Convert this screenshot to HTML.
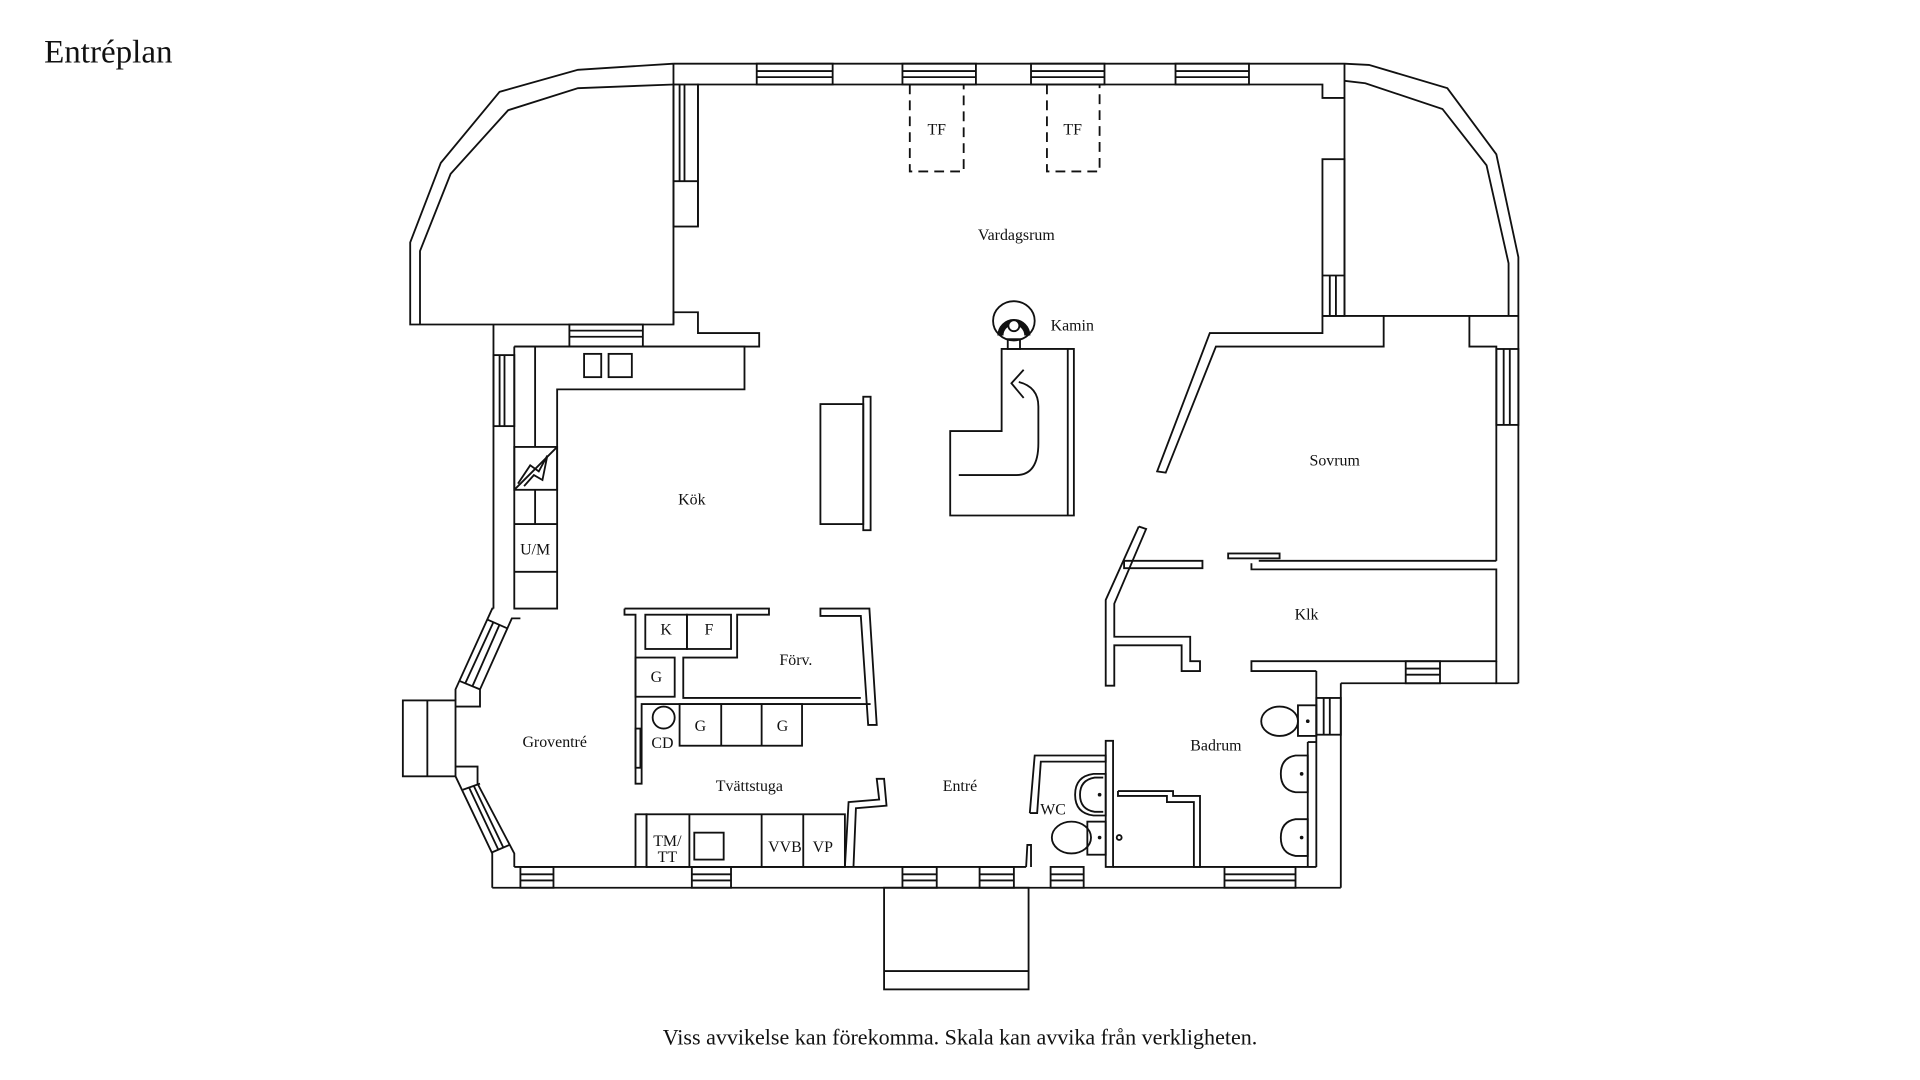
<!DOCTYPE html>
<html><head><meta charset="utf-8"><style>
html,body{margin:0;padding:0;background:#fff;width:1920px;height:1080px;overflow:hidden}
svg{display:block}
text{font-family:"Liberation Serif",serif;fill:#111}
</style></head><body>
<svg width="1920" height="1080" viewBox="0 0 1568 882" xmlns="http://www.w3.org/2000/svg">
<g fill="none" stroke="#111" stroke-width="1.5" stroke-linejoin="miter">
<line x1="550" y1="52" x2="1098" y2="52"/>
<polyline points="570,185 570,69 1080,69 1080,80 1098,80"/>
<g>
<rect x="618" y="52" width="62" height="17"/><line x1="618" y1="58" x2="680" y2="58"/><line x1="618" y1="63" x2="680" y2="63"/>
<rect x="737" y="52" width="60" height="17"/><line x1="737" y1="58" x2="797" y2="58"/><line x1="737" y1="63" x2="797" y2="63"/>
<rect x="842" y="52" width="60" height="17"/><line x1="842" y1="58" x2="902" y2="58"/><line x1="842" y1="63" x2="902" y2="63"/>
<rect x="960" y="52" width="60" height="17"/><line x1="960" y1="58" x2="1020" y2="58"/><line x1="960" y1="63" x2="1020" y2="63"/>
</g>
<polyline points="550,52 472,57 408,75 360,133 335,198 335,265 550,265 550,52"/>
<polyline points="550,69 472,72 415,90 368,142 343,205 343,265"/>
<rect x="550" y="69" width="20" height="116"/><line x1="555" y1="69" x2="555" y2="148"/><line x1="559" y1="69" x2="559" y2="148"/><line x1="550" y1="148" x2="570" y2="148"/>
<polyline points="1098,52 1118,53 1182,72 1222,126 1240,210 1240,558"/>
<polyline points="1098,66 1115,68 1178,89 1214,135 1232,215 1232,258"/>
<line x1="1098" y1="52" x2="1098" y2="258"/>
<rect x="1080" y="130" width="18" height="128"/>
<line x1="1080" y1="225" x2="1098" y2="225"/><line x1="1086" y1="225" x2="1086" y2="258"/><line x1="1091" y1="225" x2="1091" y2="258"/>
<line x1="1080" y1="258" x2="1240" y2="258"/>
<polyline points="1080,258 1080,272 988,272 945,385 952,386 993,283 1130,283 1130,258"/>
<polyline points="1200,258 1200,283 1222,283 1222,458"/>
<rect x="1222" y="285" width="18" height="62"/><line x1="1228" y1="285" x2="1228" y2="347"/><line x1="1233" y1="285" x2="1233" y2="347"/>
<polyline points="403,265 403,497"/>
<polyline points="550,265 550,255 570,255 570,272 620,272 620,283 570,283"/>
<line x1="550" y1="283" x2="570" y2="283"/>
<rect x="465" y="265" width="60" height="18"/><line x1="465" y1="270" x2="525" y2="270"/><line x1="465" y1="275" x2="525" y2="275"/>
<rect x="403" y="290" width="17" height="58"/><line x1="408" y1="290" x2="408" y2="348"/><line x1="412" y1="290" x2="412" y2="348"/>
<polyline points="420,283 608,283 608,318 455,318 455,497 420,497 420,283"/>
<line x1="420" y1="283" x2="550" y2="283"/>
<line x1="437" y1="283" x2="437" y2="365"/>
<rect x="420" y="365" width="35" height="35"/>
<polyline points="420,400 455,365"/>
<polyline points="423,395 433,380 440,385 447,372 443,392 436,388 428,397"/>
<line x1="420" y1="428" x2="455" y2="428"/><line x1="437" y1="400" x2="437" y2="428"/>
<line x1="420" y1="467" x2="455" y2="467"/>
<rect x="477" y="289" width="14" height="19"/><rect x="497" y="289" width="19" height="19"/>
<rect x="670" y="330" width="35" height="98"/>
<rect x="705" y="324" width="6" height="109"/>
<polygon points="818,285 877,285 877,421 776,421 776,352 818,352"/>
<line x1="872" y1="285" x2="872" y2="421"/>
<path d="M 783 388 L 830 388 Q 848 388 848 362 L 848 332 Q 848 316 832 312"/>
<polyline points="836,302 826,313 836,325"/>
<ellipse cx="828" cy="262" rx="17" ry="16"/>
<path d="M 817 274 A 11 11 0 1 1 839 274" stroke-width="5"/>
<circle cx="828" cy="266" r="4.5" fill="#fff"/>
<rect x="823" y="277" width="10" height="8"/>
<g stroke-dasharray="8 5">
<polyline points="743,69 743,140 787,140 787,69"/>
<polyline points="855,69 855,140 898,140 898,69"/>
</g>
<!-- groventre left -->
<polyline points="403,497 402,497 372,563 372,572"/>
<polyline points="425,505 418,505 392,563 392,577 372,577"/>
<line x1="398" y1="506" x2="414" y2="513"/><line x1="375" y1="556" x2="392" y2="563"/>
<line x1="403" y1="508" x2="380" y2="558"/><line x1="408" y1="510" x2="386" y2="560"/>
<rect x="329" y="572" width="43" height="62"/><line x1="349" y1="572" x2="349" y2="634"/>
<polyline points="372,626 390,626 390,640 420,697 420,708"/>
<polyline points="372,634 402,697 402,725"/>
<line x1="378" y1="645" x2="392" y2="640"/><line x1="402" y1="696" x2="416" y2="690"/>
<line x1="383" y1="643" x2="407" y2="694"/><line x1="387" y1="642" x2="411" y2="692"/>
<line x1="402" y1="725" x2="1095" y2="725"/>
<polyline points="420,708 519,708"/>
<line x1="690" y1="708" x2="838" y2="708"/>
<line x1="528" y1="708" x2="690" y2="708"/>
<line x1="909" y1="708" x2="1075" y2="708"/>
<g>
<rect x="425" y="708" width="27" height="17"/><line x1="425" y1="714" x2="452" y2="714"/><line x1="425" y1="719" x2="452" y2="719"/>
<rect x="565" y="708" width="32" height="17"/><line x1="565" y1="714" x2="597" y2="714"/><line x1="565" y1="719" x2="597" y2="719"/>
<rect x="737" y="708" width="28" height="17"/><line x1="737" y1="714" x2="765" y2="714"/><line x1="737" y1="719" x2="765" y2="719"/>
<rect x="800" y="708" width="28" height="17"/><line x1="800" y1="714" x2="828" y2="714"/><line x1="800" y1="719" x2="828" y2="719"/>
<rect x="858" y="708" width="27" height="17"/><line x1="858" y1="714" x2="885" y2="714"/><line x1="858" y1="719" x2="885" y2="719"/>
<rect x="1000" y="708" width="58" height="17"/><line x1="1000" y1="714" x2="1058" y2="714"/><line x1="1000" y1="719" x2="1058" y2="719"/>
</g>
<rect x="722" y="725" width="118" height="83"/><line x1="722" y1="793" x2="840" y2="793"/>
<polyline points="510,497 510,502 519,502 519,640 524,640 524,575 711,575"/>
<polyline points="510,497 628,497 628,502 602,502 602,537 558,537 558,570 703,570"/>
<rect x="527" y="502" width="34" height="28"/><rect x="561" y="502" width="36" height="28"/>
<rect x="519" y="537" width="32" height="32"/>
<polygon points="670,497 710,497 716,592 709,592 703,503 670,503"/>
<rect x="555" y="575" width="100" height="34"/><line x1="589" y1="575" x2="589" y2="609"/><line x1="622" y1="575" x2="622" y2="609"/>
<circle cx="542" cy="586" r="9"/>
<rect x="519" y="595" width="4" height="32"/>
<rect x="519" y="665" width="9" height="43"/>
<rect x="528" y="665" width="162" height="43"/>
<line x1="563" y1="665" x2="563" y2="708"/><line x1="622" y1="665" x2="622" y2="708"/><line x1="656" y1="665" x2="656" y2="708"/>
<rect x="567" y="680" width="24" height="22"/>
<polyline points="690,708 693,655 718,653 716,636 722,636 724,658 699,660 697,708"/>
<rect x="903" y="605" width="6" height="103"/>
<polyline points="841,664 845,617 903,617 903,622 850,622 847,664 841,664"/>
<polyline points="838,708 839,690 842,690 842,708"/>
<path d="M 903 632 L 893 632 Q 878 634 878 649 Q 878 664 893 666 L 903 666 Z"/>
<path d="M 901 635 L 894 635 Q 882 637 882 649 Q 882 661 894 663 L 901 663"/>
<rect x="888" y="671" width="15" height="27"/>
<ellipse cx="875" cy="684" rx="16" ry="13"/>
<circle cx="914" cy="684" r="2"/>
<polyline points="913,646 958,646 958,650 980,650 980,708 975,708 975,655 953,655 953,650 913,650 913,646"/>
<line x1="1075" y1="548" x2="1075" y2="708"/>
<line x1="1068" y1="606" x2="1068" y2="708"/>
<line x1="1068" y1="606" x2="1075" y2="606"/>
<line x1="1095" y1="558" x2="1095" y2="725"/>
<rect x="1075" y="570" width="20" height="30"/><line x1="1081" y1="570" x2="1081" y2="600"/><line x1="1086" y1="570" x2="1086" y2="600"/>
<rect x="1060" y="576" width="15" height="25"/>
<ellipse cx="1045" cy="589" rx="15" ry="12"/>
<path d="M 1068 617 L 1058 617 Q 1046 619 1046 632 Q 1046 645 1058 647 L 1068 647 Z"/>
<path d="M 1068 669 L 1058 669 Q 1046 671 1046 684 Q 1046 697 1058 699 L 1068 699 Z"/>
<polyline points="930,430 903,490 903,560 910,560 910,527 965,527 965,548 980,548 980,540 972,540 972,520 910,520 910,493 936,432 930,430"/>
<polygon points="918,458 982,458 982,464 918,464"/>
<rect x="1003" y="452" width="42" height="4"/>
<line x1="1028" y1="458" x2="1222" y2="458"/>
<polyline points="1022,460 1022,465 1222,465 1222,540 1022,540 1022,548 1075,548"/>
<polyline points="1222,540 1222,558 1240,558"/>
<line x1="1095" y1="558" x2="1222" y2="558"/>
<rect x="1148" y="540" width="28" height="18"/><line x1="1148" y1="546" x2="1176" y2="546"/><line x1="1148" y1="551" x2="1176" y2="551"/>
</g>
<g fill="#111">
<circle cx="898" cy="649" r="1.5"/><circle cx="1063" cy="632" r="1.5"/><circle cx="1063" cy="684" r="1.5"/><circle cx="898" cy="684" r="1.5"/><circle cx="1068" cy="589" r="1.5"/>
</g>
<text x="36" y="51" font-size="27">Entréplan</text>
<g font-size="13" text-anchor="middle">
<text x="765" y="110">TF</text>
<text x="876" y="110">TF</text>
<text x="830" y="196">Vardagsrum</text>
<text x="858" y="270" text-anchor="start">Kamin</text>
<text x="1090" y="380">Sovrum</text>
<text x="565" y="412">Kök</text>
<text x="437" y="453">U/M</text>
<text x="1067" y="506">Klk</text>
<text x="544" y="518">K</text>
<text x="579" y="518">F</text>
<text x="650" y="543">Förv.</text>
<text x="536" y="557">G</text>
<text x="572" y="597">G</text>
<text x="639" y="597">G</text>
<text x="541" y="611">CD</text>
<text x="453" y="610">Groventré</text>
<text x="993" y="613">Badrum</text>
<text x="612" y="646">Tvättstuga</text>
<text x="784" y="646">Entré</text>
<text x="860" y="665">WC</text>
<text x="545" y="691">TM/</text>
<text x="545" y="704">TT</text>
<text x="641" y="696">VVB</text>
<text x="672" y="696">VP</text>
</g>
<text x="784" y="853" font-size="18" text-anchor="middle">Viss avvikelse kan förekomma. Skala kan avvika från verkligheten.</text>
</svg>
</body></html>
